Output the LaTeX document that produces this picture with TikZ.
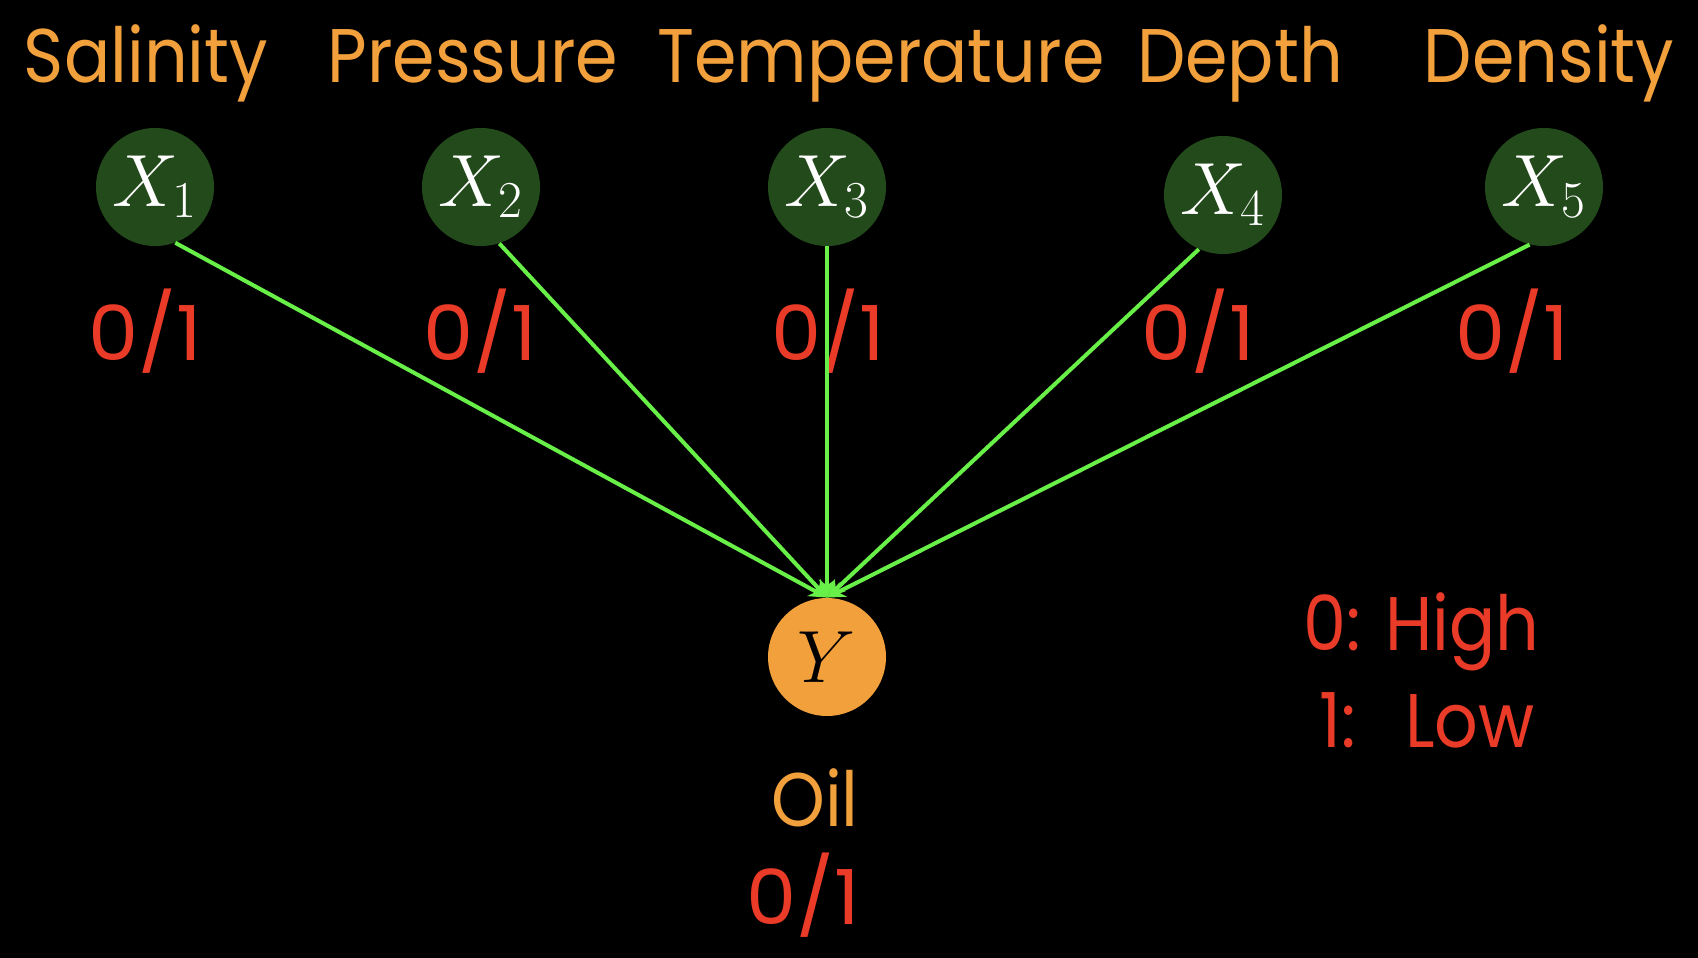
\RequirePackage{fix-cm}
\documentclass[tikz,border=0pt]{standalone}
\usepackage[no-math]{fontspec}
\setmainfont{Poppins}[FakeStretch=0.9]
\newfontfamily\valfont{Poppins}[FakeStretch=1.05]
\usetikzlibrary{arrows.meta}
\definecolor{nodegreen}{RGB}{34,74,26}
\definecolor{edgegreen}{RGB}{104,240,72}
\definecolor{oilorange}{RGB}{241,160,60}
\definecolor{valred}{RGB}{234,58,40}
\begin{document}
\begin{tikzpicture}[
  x=0.5pt, y=-0.5pt,
  var/.style={circle, fill=nodegreen, minimum size=59pt, inner sep=0pt, text=white, font=\fontsize{37}{40}\selectfont},
  outc/.style={circle, fill=oilorange, minimum size=59pt, inner sep=0pt, text=black, font=\fontsize{37}{40}\selectfont},
  lbl/.style={anchor=base, text=oilorange, inner sep=0pt, font=\fontsize{38}{42}\selectfont},
  val/.style={anchor=base, text=valred, inner sep=0pt, font=\fontsize{38}{42}\selectfont\valfont},
  conn/.style={draw=edgegreen, line width=2pt, -{Stealth[length=9pt,width=8pt]}}
]
\fill[black] (0,0) rectangle (1698,958);
% variables
\node[var] (x1) at (155,187) {$X_1$};
\node[var] (x2) at (481,187) {$X_2$};
\node[var] (x3) at (827,187) {$X_3$};
\node[var] (x4) at (1223,195) {$X_4$};
\node[var] (x5) at (1544,187) {$X_5$};
\node[outc] (y) at (827,657) {$Y$};
% names
\node[lbl] (n1) at (146,83) {Salinity};
\node[lbl] (n2) at (473,83) {Pressure};
\node[lbl] (n3) at (881,83) {Temperature};
\node[lbl] (n4) at (1240,83) {Depth};
\node[lbl] (n5) at (1549,83) {Density};
\node[lbl] (ny) at (815,826) {Oil};
% values
\node[val] (v1) at (145,360) {0/1};
\node[val] (v2) at (480,360) {0/1};
\node[val] (v3) at (828,360) {0/1};
\node[val] (v4) at (1198,360) {0/1};
\node[val] (v5) at (1512,360) {0/1};
\node[val] (vy) at (803,924) {0/1};
\node[val, anchor=base west, font=\fontsize{38}{42}\selectfont] (hi) at (1303,650) {0: High};
\node[val, anchor=base west, font=\fontsize{38}{42}\selectfont] (lo) at (1319,747) {1:\ \ \,Low};
% edges
\draw[conn] (x1.-70) -- (y.north);
\draw[conn] (x2.-72) -- (y.north);
\draw[conn] (x3.south) -- (y.north);
\draw[conn] (x4.-114) -- (y.north);
\draw[conn] (x5.-104) -- (y.north);
\end{tikzpicture}
\end{document}
